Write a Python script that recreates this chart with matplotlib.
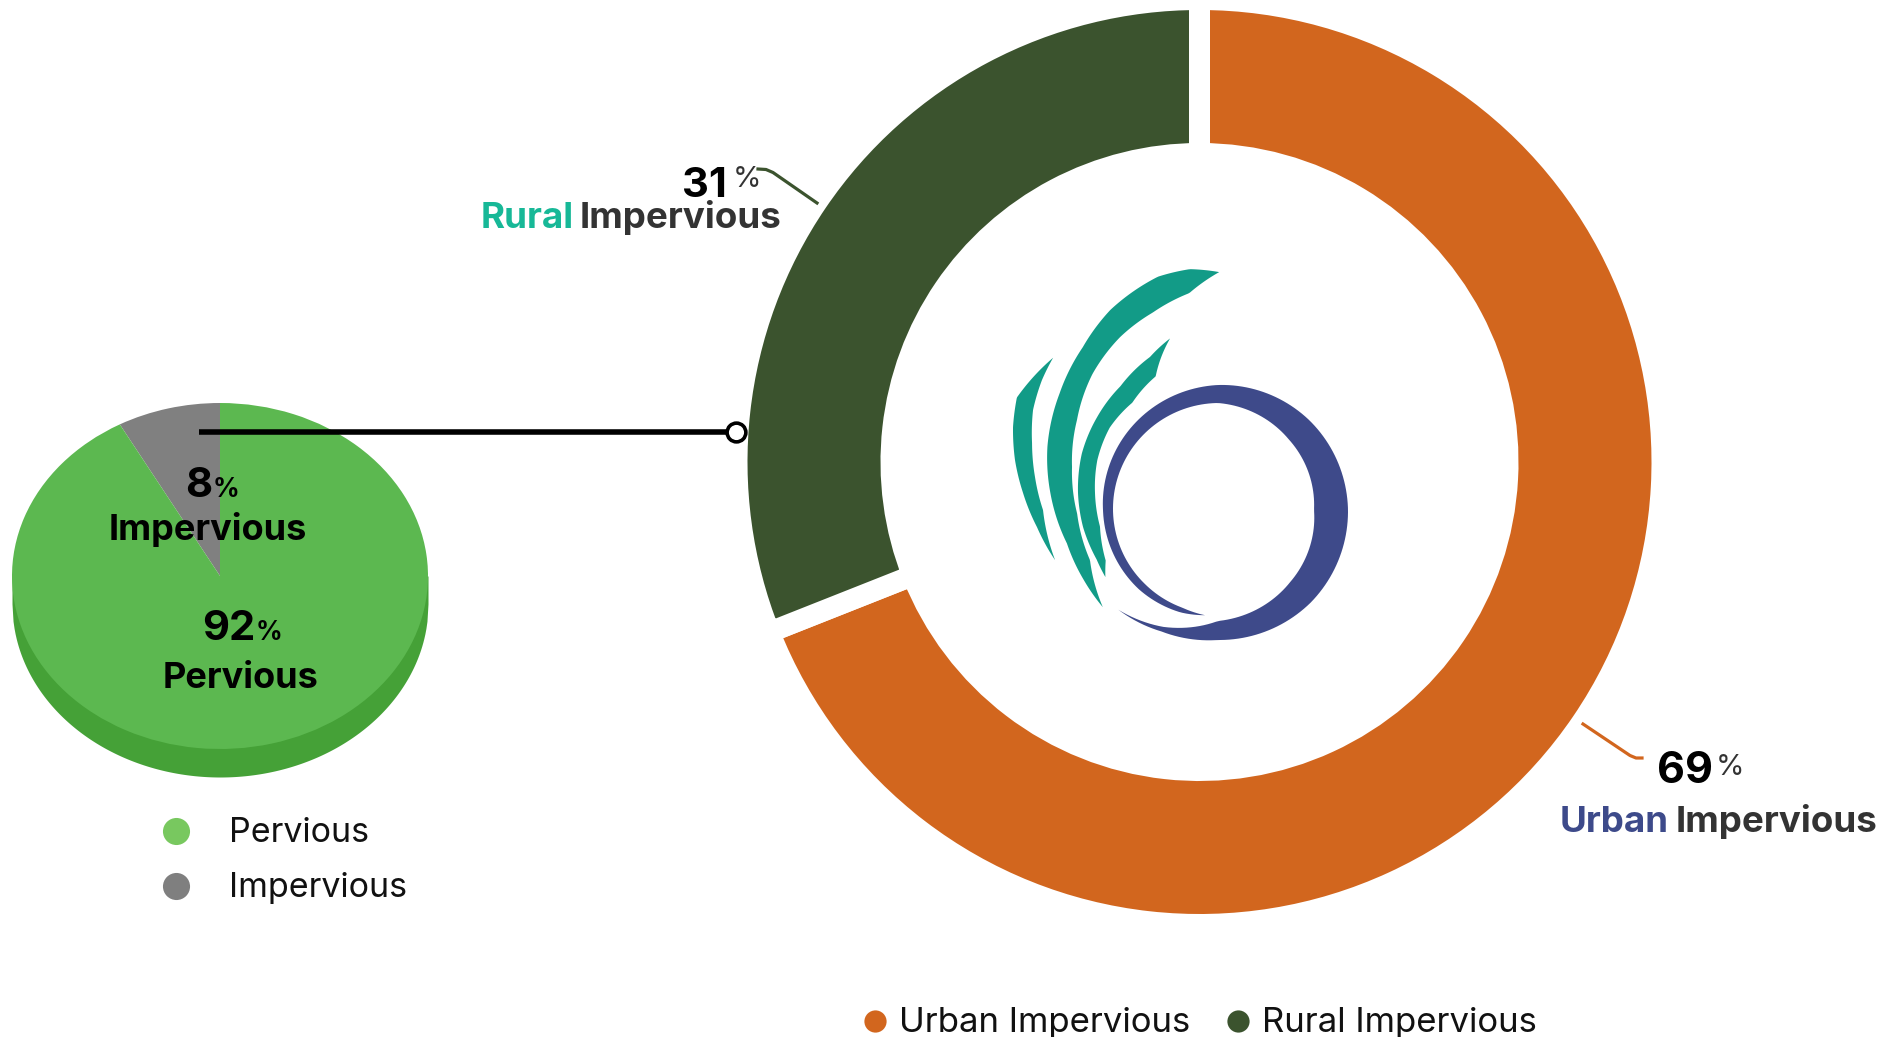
import numpy as np
import matplotlib.pyplot as plt
from matplotlib.patches import Polygon

plt.rcParams['font.family'] = ['Inter', 'DejaVu Sans']

# --- data ---
cover_labels = ['Impervious', 'Pervious']
cover_share = [8, 92]
cover_colors = ['#808080', '#5CB850']
cover_legend = ['Pervious', 'Impervious']
cover_legend_colors = ['#78C85F', '#7F7F7F']

imp_labels = ['Urban Impervious', 'Rural Impervious']
imp_share = [69, 31]
imp_colors = ['#D2661E', '#3B532E']

W, H = 1900, 1037
fig = plt.figure(figsize=(W / 100, H / 100), dpi=100)


def px_axes(x0, y0, x1, y1):
    # axes placed with pixel coords (y measured from the top)
    return fig.add_axes([x0 / W, 1 - y1 / H, (x1 - x0) / W, (y1 - y0) / H])


# --- left "3D" pie ---
pcx, pcy, prx, pry, depth = 220, 576, 208, 173, 28
d = depth / pry
axp = px_axes(pcx - prx, pcy - pry, pcx + prx, pcy + pry + depth)
xs = np.linspace(-1, 1, 400)
axp.fill_between(xs, -np.sqrt(1 - xs ** 2) - d, 0, color='#45A137', lw=0)
axp.pie(cover_share, colors=cover_colors, startangle=90, counterclock=True,
        radius=1, wedgeprops=dict(linewidth=0))
axp.set_aspect('auto')
axp.set_xlim(-1, 1)
axp.set_ylim(-1 - d, 1)
axp.axis('off')

# --- donut ---
dcx, dcy = 1199.5, 462
r_out, r_in, gap = 452, 319, 21
half = 480
axd = px_axes(dcx - half, dcy - half, dcx + half, dcy + half)
axd.pie(imp_share, colors=imp_colors, startangle=90, counterclock=False,
        radius=r_out + gap / 2,
        wedgeprops=dict(width=r_out - r_in + gap, edgecolor='white', linewidth=gap * 0.72))
axd.set_aspect('auto')
axd.set_xlim(-half, half)
axd.set_ylim(-half, half)
axd.axis('off')

# --- overlay in pixel coords ---
ax = fig.add_axes([0, 0, 1, 1])
ax.set_xlim(0, W)
ax.set_ylim(H, 0)
ax.axis('off')
ax.patch.set_alpha(0)


def swoosh(cx, cy, th_o, r_o, th_i, r_i, color):
    t1 = np.linspace(th_o[0], th_o[-1], 200)
    t2 = np.linspace(th_i[-1], th_i[0], 200)
    ro = np.interp(t1, th_o, r_o)
    ri = np.interp(t2, th_i, r_i)
    t = np.radians(np.concatenate([t1, t2]))
    r = np.concatenate([ro, ri])
    pts = np.column_stack([cx + r * np.cos(t), cy - r * np.sin(t)])
    ax.add_patch(Polygon(pts, closed=True, fc=color, ec='none'))


# logo in the hole
teal, navy = '#129B87', '#3E4A8A'
th = [225, 245, 270, 315, 360, 405, 450, 495, 540, 585, 610, 623]
swoosh(1218, 510, th, [141, 134, 130, 131, 130, 128, 125, 120, 115, 112, 109, 106],
       th, [141, 129, 111, 102, 96, 100, 107, 106, 105, 104, 104, 106], navy)
swoosh(1240, 470, [96, 104, 113, 129, 142, 157, 173, 187, 203, 215, 225],
       [199, 207, 210, 206, 199.5, 196, 194, 191, 188, 191, 194],
       [96, 106, 119, 132, 147, 163, 179, 195, 211, 225],
       [199, 184, 180, 179, 176, 170.5, 168, 168.6, 175, 194], teal)
swoosh(1240, 470, [118, 128.5, 145, 160, 174, 188, 200, 212, 218.5],
       [149, 144.5, 146, 152.5, 159, 163.6, 167, 169, 172],
       [118, 132, 148, 162, 176, 189, 202, 214, 218.5],
       [149, 126, 127, 137, 143, 146.8, 151, 162, 172], teal)
swoosh(1240, 470, [149, 162, 169.3, 177.5, 186, 195.7, 206],
       [218, 234.6, 231, 225.2, 218.2, 210.9, 205.7],
       [149, 155.6, 163.8, 172.6, 182, 191.5, 206],
       [218, 217.5, 215.5, 209.7, 205.1, 201, 205.7], teal)

# connector from small pie to donut
ax.plot([199, 736], [432, 432], color='black', lw=4, solid_capstyle='butt')
ax.plot([736], [432], marker='o', ms=13.5, mfc='white', mec='black', mew=2.6)

# pie labels
ax.text(212, 497, f'{cover_share[0]}', ha='right', va='baseline', fontsize=30,
        fontweight='bold', color='black')
ax.text(213, 497, '%', ha='left', va='baseline', fontsize=19, fontweight='bold')
ax.text(208, 540, cover_labels[0], ha='center', va='baseline', fontsize=26,
        fontweight='bold', color='black')
ax.text(255, 640, f'{cover_share[1]}', ha='right', va='baseline', fontsize=30,
        fontweight='bold', color='black')
ax.text(256, 640, '%', ha='left', va='baseline', fontsize=19, fontweight='bold')
ax.text(241, 688, cover_labels[1], ha='center', va='baseline', fontsize=26,
        fontweight='bold', color='black')

# donut callouts
ax.plot([758, 766, 773, 817], [169, 169.5, 172.5, 203], color=imp_colors[1], lw=2.3)
ax.text(727, 197, f'{imp_share[1]}', ha='right', va='baseline', fontsize=30,
        fontweight='bold', color='black')
ax.text(733, 187, '%', ha='left', va='baseline', fontsize=21, color='#333333')
ax.text(481, 228, 'Rural', ha='left', va='baseline', fontsize=26.5,
        fontweight='bold', color='#17B897')
ax.text(782, 228, 'Impervious', ha='right', va='baseline', fontsize=26.5,
        fontweight='bold', color='#333333')

ax.plot([1583, 1630, 1636, 1642], [724, 755.5, 758, 758], color=imp_colors[0], lw=2.3)
ax.text(1713, 783, f'{imp_share[0]}', ha='right', va='baseline', fontsize=31,
        fontweight='bold', color='black')
ax.text(1716, 775, '%', ha='left', va='baseline', fontsize=21, color='#333333')
ax.text(1560, 832, 'Urban', ha='left', va='baseline', fontsize=26.5,
        fontweight='bold', color='#3D4A8A')
ax.text(1877, 832, 'Impervious', ha='right', va='baseline', fontsize=26.5,
        fontweight='bold', color='#333333')

# left legend
for i, (lab, col) in enumerate(zip(cover_legend, cover_legend_colors)):
    y = 831 + 55 * i
    ax.plot([176], [y], marker='o', ms=19.5, color=col, mec='none')
    ax.text(229, y + 11, lab, ha='left', va='baseline', fontsize=24.5, color='#111111')

# bottom legend
for lab, col, x in zip(imp_labels, imp_colors, [875, 1238]):
    ax.plot([x], [1021], marker='o', ms=16, color=col, mec='none')
    ax.text(x + 24, 1032, lab, ha='left', va='baseline', fontsize=25, color='#111111')

fig.savefig('out.png', dpi=100, facecolor='white')
